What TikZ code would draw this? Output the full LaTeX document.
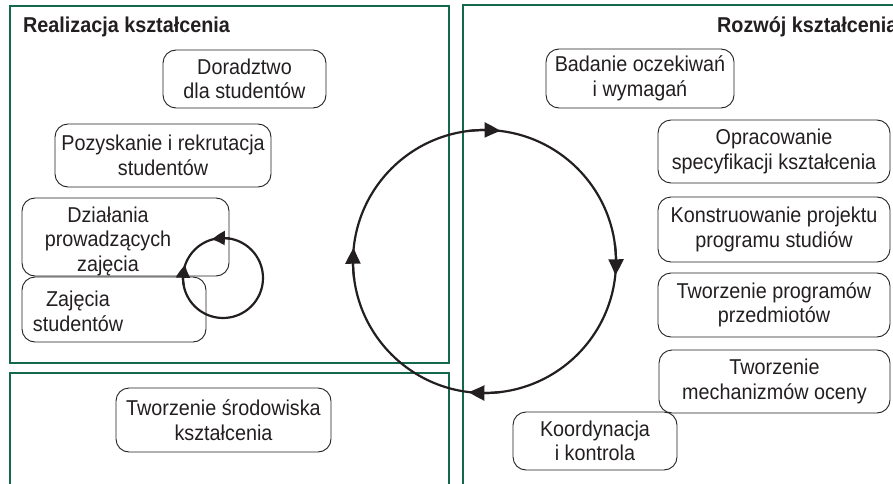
\documentclass[tikz,border=0pt]{standalone}
\usepackage{fontspec}
\setmainfont{Liberation Sans}[FakeStretch=0.92]
\usetikzlibrary{arrows.meta,bending}
\definecolor{frameg}{RGB}{20,105,75}
\definecolor{ink}{RGB}{35,31,32}
\newcommand{\bodyfnt}{\fontsize{21.5}{24.5}\selectfont}
\begin{document}
\begin{tikzpicture}[x=1pt,y=1pt,
  panel/.style={draw=frameg, line width=1.8pt},
  rbox/.style={draw=ink, line width=0.9pt, rounded corners=13pt, inner sep=0pt,
    align=center, font=\bodyfnt, text=ink},
  lbl/.style={inner sep=0pt, align=center, font=\bodyfnt, text=ink},
  ttl/.style={inner sep=0pt, anchor=base west, font=\bfseries\bodyfnt, text=ink},
  cyc/.style={circle, draw=ink, line width=2.2pt, inner sep=0pt},
  bigtip/.style={draw=ink, line width=2.2pt, -{Triangle[length=16pt,width=15pt,bend]}},
  smalltip/.style={draw=ink, line width=2.2pt, -{Triangle[length=13pt,width=14pt,bend]}},
]
\path[use as bounding box] (0,0) rectangle (893,483);
\clip (0,0) rectangle (893,483);

% panels
\draw[panel] (10,477) rectangle (449,120);
\draw[panel] (10,110) rectangle (449,-10);
\draw[panel] (463,478) rectangle (905,-10);

% titles
\node[ttl] (t1) at (23,450) {Realizacja kształcenia};
\node[ttl] (t2) at (717,450) {Rozwój kształcenia};

% left boxes
\node[rbox, minimum width=163, minimum height=58] (dor) at (244.5,404) {Doradztwo\\dla studentów};
\node[rbox, minimum width=216, minimum height=63] (poz) at (163,327.5) {Pozyskanie i rekrutacja\\studentów};
\node[rbox, minimum width=207, minimum height=78] (dzi) at (125.5,246) {};
\node[lbl] (dzit) at (108,242) {Działania\\prowadzących\\zajęcia};
\node[rbox, minimum width=184, minimum height=65] (zaj) at (114,173.5) {};
\node[lbl] (zajt) at (78,171.6) {Zajęcia\\studentów};
\node[rbox, minimum width=215, minimum height=64] (tsr) at (223.5,63) {Tworzenie środowiska\\kształcenia};

% right boxes
\node[rbox, minimum width=188, minimum height=59] (bad) at (640,404.5) {Badanie oczekiwań\\i wymagań};
\node[rbox, minimum width=232, minimum height=63] (opr) at (774,331.5) {Opracowanie\\specyfikacji kształcenia};
\node[rbox, minimum width=232, minimum height=65] (kon) at (774,253.5) {Konstruowanie projektu\\programu studiów};
\node[rbox, minimum width=232, minimum height=64] (tpr) at (774,178) {Tworzenie programów\\przedmiotów};
\node[rbox, minimum width=231, minimum height=63] (mec) at (774.5,101.5) {Tworzenie\\mechanizmów oceny};
\node[rbox, minimum width=164, minimum height=58] (koo) at (595,42) {Koordynacja\\i kontrola};

% big cycle
\node[cyc, minimum size=263] (C) at (484.5,221.5) {};
\draw[bigtip] ([shift={(C.center)}]97:131.5) arc[start angle=97, end angle=83, radius=131.5];
\draw[bigtip] ([shift={(C.center)}]8:131.5) arc[start angle=8, end angle=-6, radius=131.5];
\draw[bigtip] ([shift={(C.center)}]-83:131.5) arc[start angle=-83, end angle=-97, radius=131.5];
\draw[bigtip] ([shift={(C.center)}]188:131.5) arc[start angle=188, end angle=174, radius=131.5];

% small cycle
\node[cyc, minimum size=80] (S) at (223,205) {};
\draw[smalltip] ([shift={(S.center)}]80:40) arc[start angle=80, end angle=106, radius=40];
\draw[smalltip] ([shift={(S.center)}]190:40) arc[start angle=190, end angle=161, radius=40];
\end{tikzpicture}
\end{document}
